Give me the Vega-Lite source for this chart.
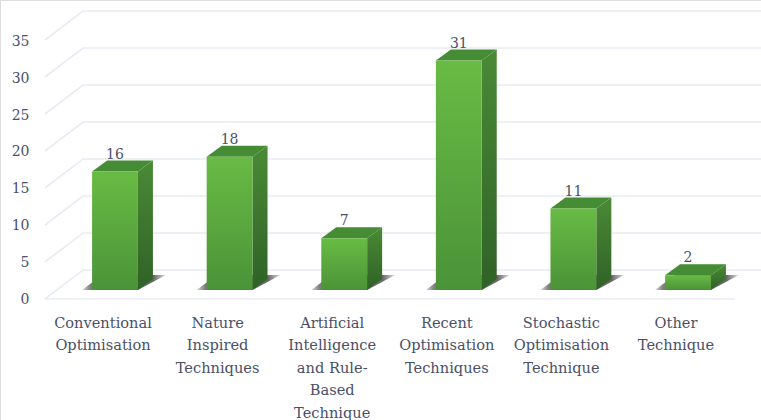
{
  "$schema": "https://vega.github.io/schema/vega-lite/v6.json",
  "width": 761,
  "height": 420,
  "autosize": {"type": "none"},
  "padding": 0,
  "background": "white",
  "datasets": {
    "ticks": [{"tick": 0}, {"tick": 5}, {"tick": 10}, {"tick": 15}, {"tick": 20}, {"tick": 25}, {"tick": 30}, {"tick": 35}]
  },
  "data": {
    "values": [
      {"category": "Conventional Optimisation", "value": 16},
      {"category": "Nature Inspired Techniques", "value": 18},
      {"category": "Artificial Intelligence and Rule-Based Technique", "value": 7},
      {"category": "Recent Optimisation Techniques", "value": 31},
      {"category": "Stochastic Optimisation Technique", "value": 11},
      {"category": "Other Technique", "value": 2}
    ]
  },
  "transform": [{"window": [{"op": "row_number", "as": "pos"}]}],
  "encoding": {
    "x": {
      "field": "px",
      "type": "quantitative",
      "scale": {"domain": [-0.0035, 6.637], "nice": false, "zero": false},
      "axis": {
        "title": null,
        "values": [1, 2, 3, 4, 5, 6],
        "domain": false,
        "ticks": false,
        "grid": false,
        "offset": -105,
        "labelPadding": 0,
        "labelOffset": -12.5,
        "labelFont": "DejaVu Serif",
        "labelFontSize": 14.6,
        "labelColor": "#4a5068",
        "labelLineHeight": 22.5,
        "labelOverlap": false,
        "labelBound": false,
        "labelFlush": false,
        "labelAlign": "center",
        "labelBaseline": "top",
        "labelExpr": "[['Conventional','Optimisation'],['Nature','Inspired','Techniques'],['Artificial','Intelligence','and Rule-','Based','Technique'],['Recent','Optimisation','Techniques'],['Stochastic','Optimisation','Technique'],['Other','Technique']][datum.value-1]"
      }
    },
    "y": {
      "field": "py",
      "type": "quantitative",
      "scale": {"domain": [-17.57, 39.19], "nice": false, "zero": false},
      "axis": {
        "title": null,
        "values": [0, 5, 10, 15, 20, 25, 30, 35],
        "domain": false,
        "ticks": false,
        "grid": false,
        "offset": -29,
        "labelPadding": 0,
        "labelOffset": 10,
        "labelFont": "DejaVu Serif",
        "labelFontSize": 14,
        "labelColor": "#4a5068",
        "labelOverlap": false,
        "labelBound": false
      }
    }
  },
  "layer": [
    {
      "data": {"name": "ticks"},
      "transform": [
        {"calculate": "[[0.389, datum.tick - 1.216], [0.721, datum.tick + 2.7], [6.637, datum.tick + 2.7]]", "as": "pts"},
        {"flatten": ["pts"]},
        {"calculate": "datum.pts[0]", "as": "px"},
        {"calculate": "datum.pts[1]", "as": "py"}
      ],
      "mark": {"type": "line", "color": "#e8ecf2", "strokeWidth": 1.6},
      "encoding": {"detail": {"field": "tick"}}
    },
    {
      "data": {"name": "ticks"},
      "transform": [
        {"filter": "datum.tick === 0"},
        {"calculate": "[[0.389, -1.216], [6.41, -1.216]]", "as": "pts"},
        {"flatten": ["pts"]},
        {"calculate": "datum.pts[0]", "as": "px"},
        {"calculate": "datum.pts[1]", "as": "py"}
      ],
      "mark": {"type": "line", "color": "#e8ecf2", "strokeWidth": 1.6}
    },
    {
      "transform": [
        {"calculate": "[0, 1]", "as": "s"},
        {"flatten": ["s"]},
        {"calculate": "datum.pos - 0.288 + datum.s * 0.175", "as": "px"},
        {"calculate": "datum.pos + 0.2 + datum.s * 0.244", "as": "px2"},
        {"calculate": "datum.s * 2.03", "as": "py"}
      ],
      "mark": {
        "type": "area",
        "orient": "horizontal",
        "color": {
          "gradient": "linear", "x1": 0, "y1": 0, "x2": 1, "y2": 0,
          "stops": [
            {"offset": 0, "color": "#d8d8d8"},
            {"offset": 0.1, "color": "#7d7d7d"},
            {"offset": 0.85, "color": "#666666"},
            {"offset": 1, "color": "#e0e0e0"}
          ]
        }
      },
      "encoding": {"x2": {"field": "px2"}, "detail": {"field": "pos"}}
    },
    {
      "transform": [
        {"calculate": "[0, 1]", "as": "s"},
        {"flatten": ["s"]},
        {"calculate": "datum.pos + 0.2 + datum.s * 0.131", "as": "px"},
        {"calculate": "datum.value + datum.s * 1.486", "as": "py"},
        {"calculate": "datum.s * 1.486", "as": "py2"}
      ],
      "mark": {
        "type": "area",
        "color": {
          "gradient": "linear", "x1": 0, "y1": 0, "x2": 0, "y2": 1,
          "stops": [
            {"offset": 0, "color": "#4a8a36"},
            {"offset": 1, "color": "#2f6226"}
          ]
        }
      },
      "encoding": {"y2": {"field": "py2"}, "detail": {"field": "pos"}}
    },
    {
      "transform": [
        {"calculate": "[0, 1]", "as": "s"},
        {"flatten": ["s"]},
        {"calculate": "datum.pos - 0.2 + datum.s * 0.131", "as": "px"},
        {"calculate": "datum.pos + 0.2 + datum.s * 0.131", "as": "px2"},
        {"calculate": "datum.value + datum.s * 1.486", "as": "py"}
      ],
      "mark": {"type": "area", "orient": "horizontal", "color": "#458c34"},
      "encoding": {"x2": {"field": "px2"}, "detail": {"field": "pos"}}
    },
    {
      "transform": [
        {"calculate": "datum.pos - 0.2", "as": "px"},
        {"calculate": "datum.pos + 0.2", "as": "px2"},
        {"calculate": "datum.value", "as": "py"},
        {"calculate": "0", "as": "py2"}
      ],
      "mark": {
        "type": "rect",
        "color": {
          "gradient": "linear", "x1": 0, "y1": 0, "x2": 0, "y2": 1,
          "stops": [
            {"offset": 0, "color": "#68bb44"},
            {"offset": 1, "color": "#4b9338"}
          ]
        }
      },
      "encoding": {"x2": {"field": "px2"}, "y2": {"field": "py2"}}
    },
    {
      "transform": [
        {"calculate": "datum.pos", "as": "px"},
        {"calculate": "datum.value", "as": "py"}
      ],
      "mark": {"type": "text", "dy": -17, "baseline": "middle", "align": "center", "font": "DejaVu Serif", "fontSize": 14, "color": "#4a5068"},
      "encoding": {"text": {"field": "value", "type": "quantitative"}}
    }
  ]
}
